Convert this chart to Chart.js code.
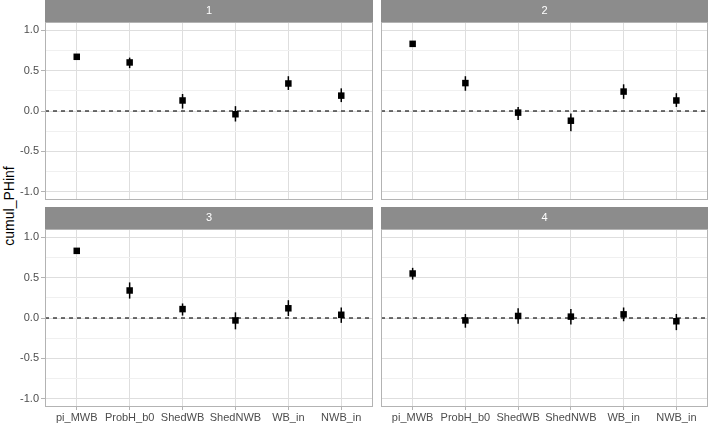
<!DOCTYPE html>
<html>
<head>
<meta charset="utf-8">
<script src="https://cdn.jsdelivr.net/npm/chart.js@4.4.1/dist/chart.umd.min.js"></script>
<style>
  html, body { margin: 0; padding: 0; background: #fff; }
  #wrap { position: relative; width: 709px; height: 424px; overflow: hidden; }
  canvas { position: absolute; }
  #ytitle {
    position: absolute; left: 9px; top: 206px;
    transform: translate(-50%, -50%) rotate(-90deg);
    font: 14px "Liberation Sans", Arial, sans-serif; color: #000; white-space: nowrap;
  }
</style>
</head>
<body>
<div id="wrap">
  <canvas id="p1" width="356" height="205" style="left:18px;top:0px"></canvas>
  <canvas id="p2" width="328" height="205" style="left:381px;top:0px"></canvas>
  <canvas id="p3" width="356" height="217" style="left:18px;top:207px"></canvas>
  <canvas id="p4" width="328" height="217" style="left:381px;top:207px"></canvas>
  <div id="ytitle">cumul_PHinf</div>
</div>
<script>
const categories = ['pi_MWB', 'ProbH_b0', 'ShedWB', 'ShedNWB', 'WB_in', 'NWB_in'];
const panelLabels = ['1', '2', '3', '4'];

// estimate, lower and upper end of each interval, per panel
const estimate1 = [0.67, 0.60, 0.13, -0.04, 0.34, 0.19];
const lower1 = [0.645, 0.53, 0.03, -0.13, 0.26, 0.11];
const upper1 = [0.695, 0.66, 0.21, 0.06, 0.43, 0.28];

const estimate2 = [0.83, 0.345, -0.02, -0.12, 0.24, 0.13];
const lower2 = [0.81, 0.25, -0.11, -0.25, 0.15, 0.05];
const upper2 = [0.85, 0.43, 0.05, -0.03, 0.33, 0.22];

const estimate3 = [0.83, 0.34, 0.11, -0.03, 0.12, 0.04];
const lower3 = [0.81, 0.24, 0.03, -0.14, 0.025, -0.06];
const upper3 = [0.85, 0.44, 0.18, 0.07, 0.22, 0.13];

const estimate4 = [0.55, -0.03, 0.025, 0.017, 0.045, -0.04];
const lower4 = [0.475, -0.12, -0.07, -0.08, -0.04, -0.15];
const upper4 = [0.62, 0.05, 0.12, 0.11, 0.13, 0.05];

const yMajor = [-1, -0.5, 0, 0.5, 1];
const yMinor = [-0.75, -0.25, 0.25, 0.75];

Chart.defaults.font.family = '"Liberation Sans", Arial, sans-serif';
Chart.defaults.font.size = 11;
Chart.defaults.color = '#4d4d4d';

const isMajor = v => yMajor.some(m => Math.abs(m - v) < 1e-9);

// no label overhang padding, panels keep a fixed size
function noPad(s) {
  s.paddingLeft = 0;
  s.paddingRight = 0;
  s.paddingTop = 0;
  s.paddingBottom = 0;
}

// strip, reference line, error bars, panel border
const facetPlugin = {
  id: 'facet',
  beforeDatasetsDraw(chart) {
    const { ctx, chartArea: a, scales } = chart;
    const o = chart.options.plugins.facet;
    ctx.save();
    // dashed zero line
    const y0 = scales.y.getPixelForValue(0);
    ctx.strokeStyle = '#000';
    ctx.lineWidth = 1.1;
    ctx.setLineDash([4, 4]);
    ctx.beginPath();
    ctx.moveTo(a.left, y0);
    ctx.lineTo(a.right, y0);
    ctx.stroke();
    ctx.setLineDash([]);
    // error bars
    ctx.lineWidth = 1.5;
    o.lower.forEach((lo, i) => {
      const x = scales.x.getPixelForValue(i + 1);
      ctx.beginPath();
      ctx.moveTo(x, scales.y.getPixelForValue(lo));
      ctx.lineTo(x, scales.y.getPixelForValue(o.upper[i]));
      ctx.stroke();
    });
    ctx.restore();
  },
  afterDraw(chart) {
    const { ctx, chartArea: a } = chart;
    const o = chart.options.plugins.facet;
    ctx.save();
    ctx.strokeStyle = '#b3b3b3';
    ctx.lineWidth = 1;
    ctx.strokeRect(a.left + 0.5, a.top + 0.5, a.right - a.left - 1, a.bottom - a.top - 1);
    ctx.fillStyle = '#8c8c8c';
    ctx.fillRect(a.left, a.top - 22, a.right - a.left, 22);
    ctx.fillStyle = '#fff';
    ctx.font = '11px "Liberation Sans", Arial, sans-serif';
    ctx.textAlign = 'center';
    ctx.textBaseline = 'middle';
    ctx.fillText(o.label, (a.left + a.right) / 2, a.top - 11);
    ctx.restore();
  }
};

function makePanel(id, label, est, lo, hi, showY, showX) {
  return new Chart(document.getElementById(id), {
    type: 'scatter',
    data: {
      datasets: [{
        data: est.map((v, i) => ({ x: i + 1, y: v })),
        pointStyle: 'rect',
        pointRadius: 4.6,
        pointHoverRadius: 4.6,
        backgroundColor: '#000',
        borderWidth: 0
      }]
    },
    options: {
      responsive: false,
      devicePixelRatio: 1,
      animation: false,
      events: [],
      layout: { autoPadding: false, padding: { top: 22, bottom: showX ? 0 : 5, left: 0, right: 1 } },
      plugins: {
        legend: { display: false },
        tooltip: { enabled: false },
        facet: { label, lower: lo, upper: hi }
      },
      scales: {
        x: {
          type: 'linear',
          min: 0.4,
          max: 6.6,
          afterBuildTicks: s => { s.ticks = categories.map((c, i) => ({ value: i + 1 })); },
          afterFit: s => { s.height = showX ? 17 : 0; noPad(s); },
          border: { display: false },
          grid: { color: '#dedede', lineWidth: 1, drawTicks: showX, tickLength: 3, tickColor: '#b3b3b3' },
          ticks: {
            display: showX,
            autoSkip: false,
            maxRotation: 0,
            padding: 1,
            color: '#4d4d4d',
            callback: v => categories[v - 1]
          }
        },
        y: {
          min: -1.1,
          max: 1.1,
          afterBuildTicks: s => { s.ticks = yMajor.concat(yMinor).sort((p, q) => p - q).map(v => ({ value: v })); },
          afterFit: s => { s.width = showY ? 27 : 0; noPad(s); },
          border: { display: false },
          grid: {
            color: c => isMajor(c.tick.value) ? '#dedede' : '#f0f0f0',
            lineWidth: 1,
            drawTicks: showY,
            tickLength: 4,
            tickColor: c => isMajor(c.tick.value) ? '#b3b3b3' : 'rgba(0,0,0,0)'
          },
          ticks: {
            display: showY,
            padding: 2,
            color: '#4d4d4d',
            callback: v => isMajor(v) ? v.toFixed(1) : ''
          }
        }
      }
    },
    plugins: [facetPlugin]
  });
}

makePanel('p1', panelLabels[0], estimate1, lower1, upper1, true, false);
makePanel('p2', panelLabels[1], estimate2, lower2, upper2, false, false);
makePanel('p3', panelLabels[2], estimate3, lower3, upper3, true, true);
makePanel('p4', panelLabels[3], estimate4, lower4, upper4, false, true);
</script>
</body>
</html>
